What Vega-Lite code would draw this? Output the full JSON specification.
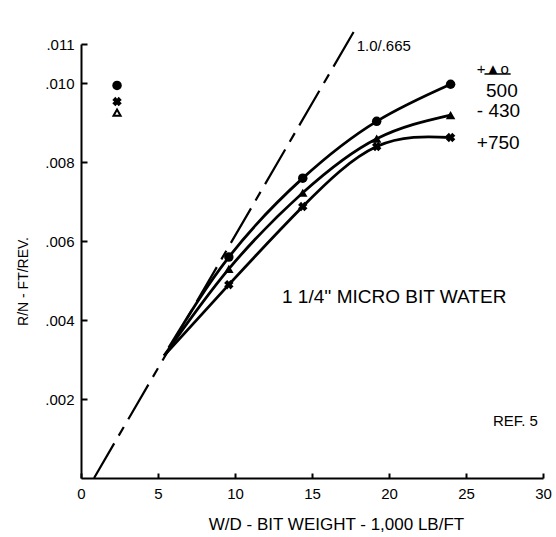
{
  "$schema": "https://vega.github.io/schema/vega-lite/v6.json",
  "width": 462,
  "height": 434,
  "autosize": {"type": "none"},
  "padding": {"left": 81, "top": 44, "right": 13, "bottom": 59},
  "background": "white",
  "config": {
    "font": "Liberation Sans",
    "view": {"stroke": null},
    "axis": {"grid": false, "domainColor": "black", "domainWidth": 2, "tickColor": "black", "tickWidth": 2, "labelColor": "black", "titleColor": "black", "labelFontSize": 15, "titleFontSize": 15, "titleFontWeight": "normal"}
  },
  "datasets": {
    "curves": [
      {"series": "A", "w": 5.7, "r": 0.0033},
      {"series": "A", "w": 9.6, "r": 0.0056},
      {"series": "A", "w": 14.4, "r": 0.0076},
      {"series": "A", "w": 19.2, "r": 0.00904},
      {"series": "A", "w": 24.0, "r": 0.00998},
      {"series": "B", "w": 5.4, "r": 0.0031},
      {"series": "B", "w": 9.6, "r": 0.0053},
      {"series": "B", "w": 14.4, "r": 0.00723},
      {"series": "B", "w": 19.2, "r": 0.0086},
      {"series": "B", "w": 24.0, "r": 0.0092},
      {"series": "C", "w": 5.4, "r": 0.0031},
      {"series": "C", "w": 9.6, "r": 0.0049},
      {"series": "C", "w": 14.4, "r": 0.00688},
      {"series": "C", "w": 19.2, "r": 0.0084},
      {"series": "C", "w": 24.0, "r": 0.00863}
    ],
    "points": [
      {"series": "A", "w": 9.6, "r": 0.0056},
      {"series": "A", "w": 14.4, "r": 0.0076},
      {"series": "A", "w": 19.2, "r": 0.00904},
      {"series": "A", "w": 24.0, "r": 0.00998},
      {"series": "B", "w": 9.6, "r": 0.0053},
      {"series": "B", "w": 14.4, "r": 0.00723},
      {"series": "B", "w": 19.2, "r": 0.0086},
      {"series": "B", "w": 24.0, "r": 0.0092},
      {"series": "C", "w": 9.6, "r": 0.0049},
      {"series": "C", "w": 14.4, "r": 0.00688},
      {"series": "C", "w": 19.2, "r": 0.0084},
      {"series": "C", "w": 24.0, "r": 0.00863},
      {"series": "A", "w": 2.34, "r": 0.00995},
      {"series": "C", "w": 2.34, "r": 0.00954}
    ],
    "open": [
      {"series": "B", "w": 2.34, "r": 0.00926}
    ],
    "ref": [
      {"w": 0.85, "r": 0},
      {"w": 17.8, "r": 0.01137}
    ],
    "labels": [
      {"w": 17.9, "r": 0.01096, "t": "1.0/.665", "fs": 15},
      {"w": 13.05, "r": 0.00459, "t": "1 1/4'' MICRO BIT WATER", "fs": 19},
      {"w": 26.75, "r": 0.00145, "t": "REF. 5", "fs": 15},
      {"w": 25.7, "r": 0.01037, "t": "+▲o", "fs": 15},
      {"w": 26.3, "r": 0.00982, "t": "500", "fs": 19},
      {"w": 25.7, "r": 0.00929, "t": "- 430", "fs": 19},
      {"w": 25.7, "r": 0.0085, "t": "+750", "fs": 19}
    ],
    "underline": [
      {"w": 26.2, "w2": 27.9, "r": 0.01024}
    ]
  },
  "encoding": {
    "x": {"field": "w", "type": "quantitative", "scale": {"domain": [0, 30], "nice": false}},
    "y": {"field": "r", "type": "quantitative", "scale": {"domain": [0, 0.011], "nice": false}}
  },
  "layer": [
    {
      "data": {"name": "ref"},
      "mark": {"type": "line", "color": "black", "strokeWidth": 2.2, "strokeDash": [40, 9, 10, 9], "clip": false},
      "encoding": {
        "x": {"field": "w", "type": "quantitative", "axis": {"title": "W/D - BIT WEIGHT - 1,000 LB/FT", "values": [0, 5, 10, 15, 20, 25, 30], "tickSize": -5, "labelPadding": 13, "titlePadding": 15, "titleX": 255, "titleFontSize": 17, "labelFlush": false}},
        "y": {"field": "r", "type": "quantitative", "axis": {"title": "R/N - FT/REV.", "values": [0.002, 0.004, 0.006, 0.008, 0.010, 0.011], "labelExpr": "substring(format(datum.value, '.3f'), 1)", "tickSize": -6, "labelPadding": 13, "titlePadding": 14, "titleY": 237, "titleFontSize": 14}}
      }
    },
    {
      "data": {"name": "curves"},
      "mark": {"type": "line", "color": "black", "strokeWidth": 2.8, "interpolate": "natural"},
      "encoding": {"detail": {"field": "series"}}
    },
    {
      "data": {"name": "points"},
      "mark": {"type": "point", "filled": true, "color": "black", "opacity": 1, "size": 90},
      "encoding": {
        "shape": {"field": "series", "type": "nominal", "scale": {"domain": ["A", "B", "C"], "range": ["circle", "triangle-up", "M-1,-0.35L-0.35,-1L0,-0.6L0.35,-1L1,-0.35L0.6,0L1,0.35L0.35,1L0,0.6L-0.35,1L-1,0.35L-0.6,0Z"]}, "legend": null}
      }
    },
    {
      "data": {"name": "open"},
      "mark": {"type": "point", "shape": "triangle-up", "filled": false, "color": "black", "strokeWidth": 2, "size": 50, "opacity": 1}
    },
    {
      "data": {"name": "labels"},
      "mark": {"type": "text", "align": "left", "baseline": "middle", "color": "black"},
      "encoding": {"text": {"field": "t"}, "size": {"field": "fs", "type": "quantitative", "scale": null}}
    },
    {
      "data": {"name": "underline"},
      "mark": {"type": "rule", "color": "black", "strokeWidth": 1.5},
      "encoding": {"x2": {"field": "w2"}}
    }
  ]
}
